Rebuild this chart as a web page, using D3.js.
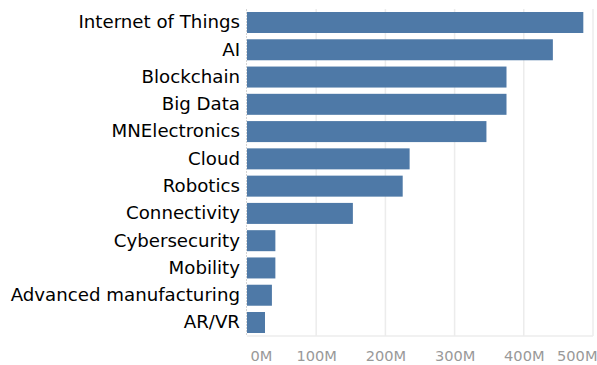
<!DOCTYPE html>
<html lang="en">

<head>
  <script src="https://cdn.jsdelivr.net/npm/d3@7"></script>
  <style>
    body {
      margin: 0;
      background: #fff;
    }

    .y.axis text {
      fill: #000;
      font-family: "DejaVu Sans", sans-serif;
      font-size: 18.2px;
    }

    .x.axis text {
      fill: #999;
      font-family: "DejaVu Sans", sans-serif;
      font-size: 14.6px;
    }

    .grid line {
      stroke: #ececec;
      stroke-width: 1.5;
    }
  </style>
</head>

<body>
  <svg id="chart" width="597" height="365"></svg>

  <script>
    var categories = ['Internet of Things', 'AI', 'Blockchain', 'Big Data', 'MNElectronics', 'Cloud',
      'Robotics', 'Connectivity', 'Cybersecurity', 'Mobility', 'Advanced manufacturing', 'AR/VR'];
    var values = [486, 442, 375, 375, 346, 235, 225, 153, 41, 41, 36, 26];
    var tickValues = [0, 100, 200, 300, 400, 500];

    var data = categories.map(function (c, i) { return { name: c, value: values[i] }; });

    var margin = { top: 9, left: 247, bottom: 29, right: 4 };
    var width = 597 - margin.left - margin.right;
    var height = 365 - margin.top - margin.bottom;

    var svg = d3.select('#chart')
      .append('g')
      .attr('transform', 'translate(' + margin.left + ',' + margin.top + ')');

    var xScale = d3.scaleLinear()
      .domain([0, 500])
      .range([0, 346]);

    var yScale = d3.scaleBand()
      .domain(categories)
      .range([0, height])
      .paddingInner(0.23)
      .paddingOuter(0.11);

    // vertical grid lines
    svg.append('g')
      .attr('class', 'grid')
      .selectAll('line')
      .data(tickValues.slice(1))
      .enter().append('line')
      .attr('x1', function (d) { return xScale(d); })
      .attr('x2', function (d) { return xScale(d); })
      .attr('y1', 0)
      .attr('y2', height);

    // bottom baseline
    svg.append('line')
      .attr('x1', 0).attr('x2', width)
      .attr('y1', height).attr('y2', height)
      .attr('stroke', '#ececec')
      .attr('stroke-width', 1.5);

    svg.selectAll('.bar')
      .data(data)
      .enter().append('rect')
      .attr('class', 'bar')
      .attr('x', 0)
      .attr('y', function (d) { return yScale(d.name); })
      .attr('width', function (d) { return xScale(d.value); })
      .attr('height', yScale.bandwidth())
      .attr('fill', '#4e79a7');

    // left axis line
    svg.append('line')
      .attr('x1', -0.5).attr('x2', -0.5)
      .attr('y1', 0).attr('y2', height)
      .attr('stroke', '#d4d4d4')
      .attr('stroke-dasharray', '2,1');

    var yAxis = d3.axisLeft(yScale).tickSize(0).tickPadding(7);
    svg.append('g')
      .attr('class', 'y axis')
      .call(yAxis)
      .call(function (g) { g.select('.domain').remove(); });

    var xAxis = d3.axisBottom(xScale)
      .tickValues(tickValues)
      .tickSize(0)
      .tickPadding(15)
      .tickFormat(function (d) { return d + 'M'; });

    svg.append('g')
      .attr('class', 'x axis')
      .attr('transform', 'translate(0,' + height + ')')
      .call(xAxis)
      .call(function (g) { g.select('.domain').remove(); })
      .selectAll('text')
      .attr('dy', '0.71em');

    svg.selectAll('.x.axis .tick text')
      .filter(function (d) { return d === 0; })
      .attr('text-anchor', 'start')
      .attr('x', 3);
    svg.selectAll('.x.axis .tick text')
      .filter(function (d) { return d === 500; })
      .attr('text-anchor', 'end')
      .attr('x', 4);
  </script>
</body>

</html>
